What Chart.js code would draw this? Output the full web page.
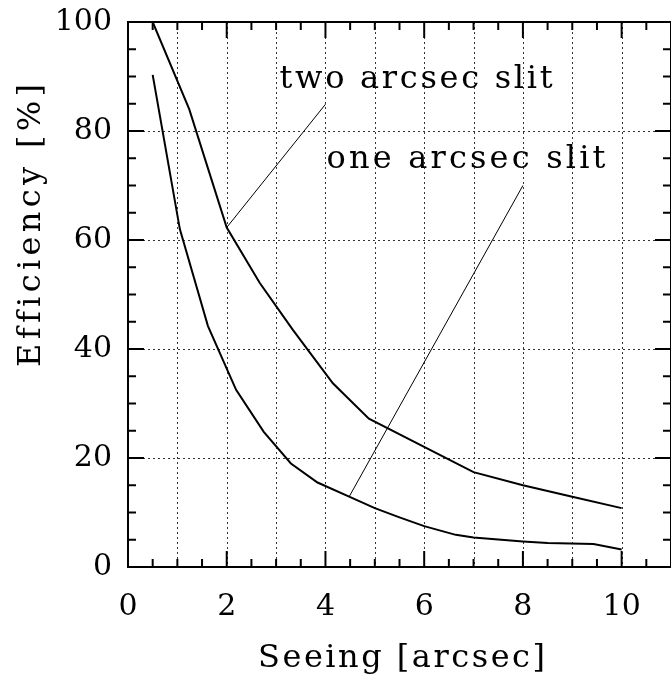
<!DOCTYPE html>
<html>
<head>
<meta charset="utf-8">
<title>Efficiency vs seeing</title>
<script src="https://cdn.jsdelivr.net/npm/chart.js@4.4.0/dist/chart.umd.min.js"></script>
<style>
  html, body { margin: 0; padding: 0; background: #fff; }
  canvas { display: block; }
</style>
</head>
<body>
<canvas id="effChart" width="671" height="678"></canvas>
<script>
  // two arcsec slit (upper curve)
  const twoSlitSeeing = [0.5, 1.24, 2.0, 2.67, 3.34, 4.15, 4.88, 7.0, 8.0, 9.0, 10.0];
  const twoSlitEff = [100, 84, 62.3, 52.1, 43.5, 33.7, 27.2, 17.4, 15.0, 12.9, 10.8];

  // one arcsec slit (lower curve)
  const oneSlitSeeing = [0.5, 1.05, 1.62, 2.19, 2.75, 3.3, 3.84, 4.48, 5.0, 5.5, 6.0, 6.64, 7.0, 8.0, 8.5, 9.43, 10.0];
  const oneSlitEff = [90.3, 62.0, 44.2, 32.5, 24.8, 19.0, 15.5, 12.9, 10.8, 9.1, 7.5, 5.9, 5.4, 4.7, 4.4, 4.2, 3.2];

  // label pointer lines
  const twoPointerSeeing = [2.0, 4.0];
  const twoPointerEff = [62.3, 84.9];
  const onePointerSeeing = [4.48, 8.0];
  const onePointerEff = [12.9, 70.0];

  const xTickLabels = [0, 2, 4, 6, 8, 10];
  const yTickLabels = [0, 20, 40, 60, 80, 100];

  const FONT = "DejaVu Serif";

  const toPoints = (xs, ys) => xs.map((v, i) => ({ x: v, y: ys[i] }));

  const line = (ctx, x1, y1, x2, y2) => {
    ctx.beginPath();
    ctx.moveTo(x1, y1);
    ctx.lineTo(x2, y2);
    ctx.stroke();
  };

  // stretch a string to a given width, the old plot font is wide
  const drawSpaced = (ctx, text, x, y, width) => {
    ctx.letterSpacing = "0px";
    const w = ctx.measureText(text).width;
    const ls = (width - w) / (text.length - 1);
    ctx.letterSpacing = ls + "px";
    ctx.fillText(text, x, y);
    ctx.letterSpacing = "0px";
  };

  const framePlugin = {
    id: "frame",
    beforeDatasetsDraw(chart) {
      const { ctx, chartArea: a } = chart;
      const x = chart.scales.x;
      const y = chart.scales.y;
      ctx.save();

      // dotted grid
      ctx.strokeStyle = "#333";
      ctx.lineWidth = 1;
      ctx.setLineDash([2, 3]);
      for (let v = 1; v <= 10; v++) {
        const px = Math.round(x.getPixelForValue(v)) + 0.5;
        line(ctx, px, a.top, px, a.bottom);
      }
      for (let v = 20; v <= 80; v += 20) {
        const py = Math.round(y.getPixelForValue(v)) + 0.5;
        line(ctx, a.left, py, a.right, py);
      }
      ctx.setLineDash([]);

      // box
      ctx.strokeStyle = "#000";
      ctx.lineWidth = 2;
      ctx.strokeRect(a.left, a.top, a.right - a.left, a.bottom - a.top);

      // ticks, pointing inwards on all four sides
      for (let v = 0; v <= 11; v += 0.5) {
        const px = x.getPixelForValue(v);
        const len = v % 2 === 0 ? 16 : 8;
        line(ctx, px, a.bottom, px, a.bottom - len);
        line(ctx, px, a.top, px, a.top + len);
      }
      for (let v = 0; v <= 100; v += 5) {
        const py = y.getPixelForValue(v);
        const len = v % 20 === 0 ? 16 : 8;
        line(ctx, a.left, py, a.left + len, py);
        line(ctx, a.right, py, a.right - len, py);
      }
      ctx.restore();
    },
    afterDraw(chart) {
      const { ctx } = chart;
      const x = chart.scales.x;
      const y = chart.scales.y;
      ctx.save();
      ctx.fillStyle = "#000";
      ctx.font = "32px '" + FONT + "'";
      ctx.textBaseline = "alphabetic";
      ctx.textAlign = "left";

      drawSpaced(ctx, "two arcsec slit", x.getPixelForValue(3.07), y.getPixelForValue(87.9), 273);
      drawSpaced(ctx, "one arcsec slit", x.getPixelForValue(4.02), y.getPixelForValue(73.2), 279);

      // axis titles
      drawSpaced(ctx, "Seeing [arcsec]", 258, 667, 287);

      ctx.translate(40, 367);
      ctx.rotate(-Math.PI / 2);
      drawSpaced(ctx, "Efficiency [%]", 0, 0, 282);
      ctx.restore();
    },
  };

  const curve = (xs, ys, width) => ({
    data: toPoints(xs, ys),
    showLine: true,
    borderColor: "#000",
    borderWidth: width,
    pointRadius: 0,
    tension: 0,
  });

  new Chart(document.getElementById("effChart"), {
    type: "scatter",
    data: {
      datasets: [
        curve(twoSlitSeeing, twoSlitEff, 2),
        curve(oneSlitSeeing, oneSlitEff, 2),
        curve(twoPointerSeeing, twoPointerEff, 1),
        curve(onePointerSeeing, onePointerEff, 1),
      ],
    },
    options: {
      responsive: false,
      animation: false,
      devicePixelRatio: 1,
      layout: { padding: { top: 22, right: -2, left: 0, bottom: 0 } },
      plugins: { legend: { display: false }, tooltip: { enabled: false } },
      scales: {
        x: {
          type: "linear",
          min: 0,
          max: 11,
          grid: { display: false, drawTicks: false },
          border: { display: false },
          afterBuildTicks: (scale) => {
            scale.ticks = xTickLabels.map((v) => ({ value: v }));
          },
          afterFit: (scale) => {
            scale.height = 111;
            scale.paddingLeft = 0;
            scale.paddingRight = 0;
          },
          ticks: {
            color: "#000",
            padding: 22,
            maxRotation: 0,
            autoSkip: false,
            font: { family: FONT, size: 30 },
          },
        },
        y: {
          type: "linear",
          min: 0,
          max: 100,
          grid: { display: false, drawTicks: false },
          border: { display: false },
          afterBuildTicks: (scale) => {
            scale.ticks = yTickLabels.map((v) => ({ value: v }));
          },
          afterFit: (scale) => {
            scale.width = 128;
            scale.paddingTop = 0;
            scale.paddingBottom = 0;
          },
          ticks: {
            color: "#000",
            padding: 16,
            autoSkip: false,
            font: { family: FONT, size: 30 },
          },
        },
      },
    },
    plugins: [framePlugin],
  });
</script>
</body>
</html>
